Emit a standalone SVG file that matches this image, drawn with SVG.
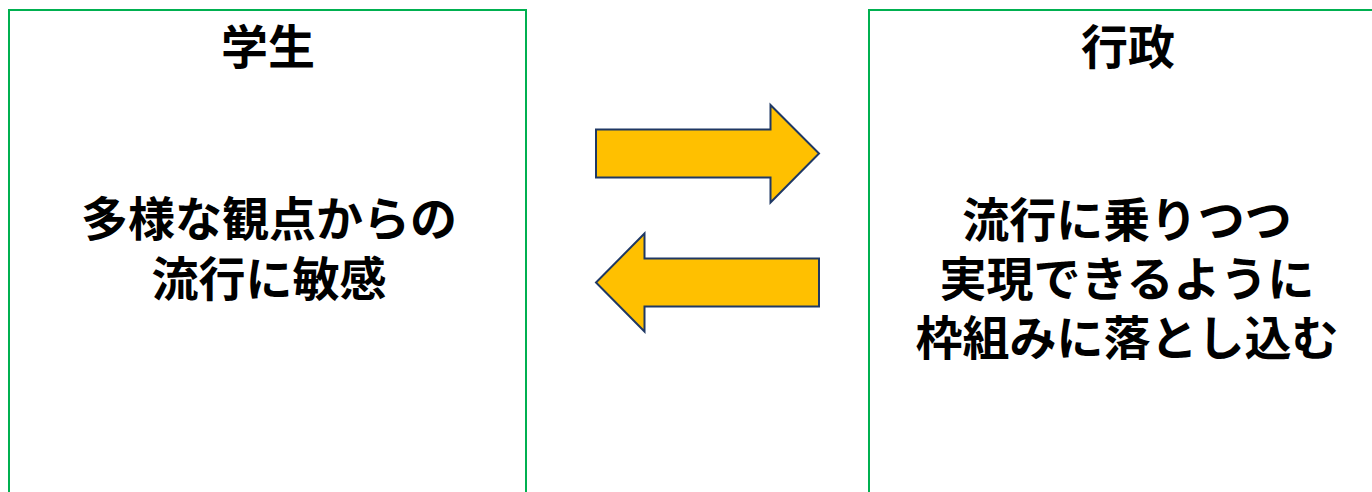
<svg xmlns="http://www.w3.org/2000/svg" width="1372" height="492" viewBox="0 0 1372 492">
<style>
.box{fill:#FFFFFF;stroke:#00B050;stroke-width:2}
.arrow{fill:#FFC000;stroke:#1F3864;stroke-width:2;stroke-linejoin:miter}
.t{font-family:"Noto Sans CJK JP","Noto Sans",sans-serif;font-weight:bold;font-size:47px;fill:#000000;text-anchor:middle}
</style>
<rect width="1372" height="492" fill="#FFFFFF"/>
<g id="student">
<rect class="box" x="9" y="10" width="517" height="500"/>
<text class="t" x="268" y="64">学生</text>
<text class="t" x="269" y="236">多様な観点からの</text>
<text class="t" x="269" y="296">流行に敏感</text>
</g>
<g id="government">
<rect class="box" x="869" y="10" width="517" height="500"/>
<text class="t" x="1128" y="64">行政</text>
<text class="t" x="1127" y="237">流行に乗りつつ</text>
<text class="t" x="1127" y="296">実現できるように</text>
<text class="t" x="1127" y="355">枠組みに落とし込む</text>
</g>
<g id="connectors">
<path class="arrow" d="M596,129.5 L770.5,129.5 L770.5,105 L819,153.5 L770.5,202.5 L770.5,177.5 L596,177.5 Z"/>
<path class="arrow" d="M819,258.5 L644.5,258.5 L644.5,233.5 L596,282.5 L644.5,331.5 L644.5,306.5 L819,306.5 Z"/>
</g>
</svg>
